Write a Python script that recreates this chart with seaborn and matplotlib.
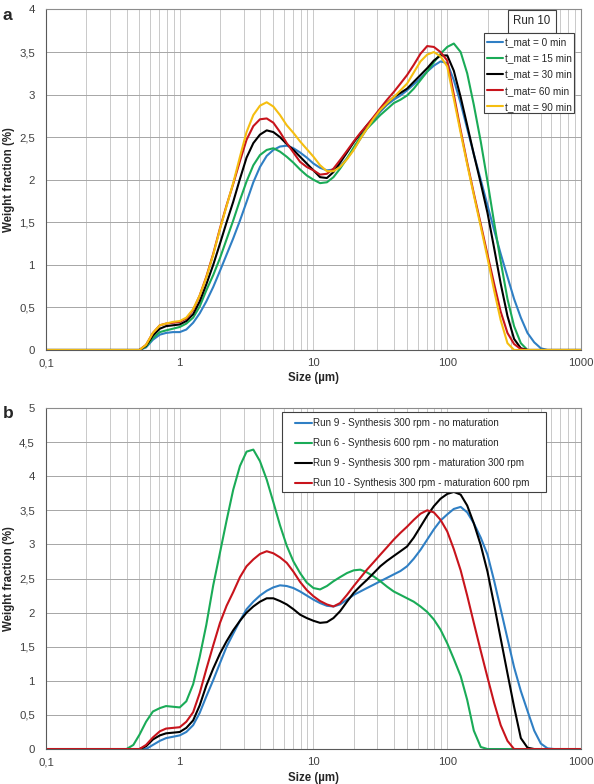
import pandas as pd
import matplotlib
matplotlib.use("Agg")
import matplotlib.pyplot as plt
import seaborn as sns
from matplotlib.patches import Rectangle
from matplotlib.ticker import FixedLocator, FuncFormatter, LogLocator, NullFormatter

# particle size grid (µm)
size_um = [0.1,
           0.4, 0.45, 0.5, 0.56, 0.63, 0.71, 0.79, 0.89,
           1.0, 1.12, 1.26, 1.41, 1.58, 1.78, 2.0, 2.24, 2.51, 2.82,
           3.16, 3.55, 3.98, 4.47, 5.01, 5.62, 6.31, 7.08, 7.94, 8.91,
           10, 11.2, 12.6, 14.1, 15.8, 17.8, 20, 22.4, 25.1, 28.2,
           31.6, 35.5, 39.8, 44.7, 50.1, 56.2, 63.1, 70.8, 79.4, 89.1,
           100, 112, 126, 141, 158, 178, 200, 224, 251, 282,
           316, 355, 398, 447, 501, 562, 631,
           1000]

# panel a - Run 10, maturation time
a_labels = ["t_mat = 0 min", "t_mat = 15 min", "t_mat = 30 min", "t_mat= 60 min", "t_mat = 90 min"]
a_colors = ["#2f7fc4", "#1aab57", "#000000", "#c8141c", "#f5be10"]
a_0min = [0,
          0, 0, 0, 0.03, 0.12, 0.18, 0.20, 0.21,
          0.21, 0.24, 0.32, 0.43, 0.57, 0.74, 0.93, 1.12, 1.31, 1.52,
          1.74, 1.97, 2.15, 2.28, 2.35, 2.39, 2.40, 2.37, 2.32, 2.26,
          2.19, 2.14, 2.11, 2.12, 2.16, 2.25, 2.36, 2.48, 2.60, 2.70,
          2.80, 2.88, 2.94, 2.99, 3.05, 3.12, 3.19, 3.27, 3.34, 3.39,
          3.37, 3.17, 2.90, 2.60, 2.30, 2.00, 1.70, 1.41, 1.13, 0.86,
          0.60, 0.38, 0.20, 0.09, 0.02, 0, 0,
          0]
a_15min = [0,
           0, 0, 0, 0.04, 0.14, 0.21, 0.23, 0.25,
           0.27, 0.31, 0.38, 0.51, 0.70, 0.88, 1.08, 1.30, 1.52, 1.76,
           1.98, 2.17, 2.29, 2.35, 2.37, 2.33, 2.27, 2.20, 2.12, 2.05,
           2.00, 1.96, 1.97, 2.03, 2.13, 2.25, 2.38, 2.50, 2.60, 2.68,
           2.76, 2.83, 2.90, 2.94, 2.99, 3.07, 3.17, 3.27, 3.38, 3.48,
           3.56, 3.60, 3.50, 3.25, 2.88, 2.45, 1.98, 1.50, 1.04, 0.60,
           0.28, 0.08, 0, 0, 0, 0, 0,
           0]
a_30min = [0,
           0, 0, 0, 0.05, 0.17, 0.25, 0.28, 0.29,
           0.30, 0.34, 0.42, 0.57, 0.77, 1.00, 1.25, 1.50, 1.74, 2.01,
           2.26, 2.43, 2.53, 2.58, 2.56, 2.50, 2.42, 2.35, 2.27, 2.19,
           2.11, 2.03, 2.02, 2.09, 2.20, 2.32, 2.44, 2.54, 2.64, 2.73,
           2.82, 2.90, 2.97, 3.02, 3.07, 3.15, 3.23, 3.31, 3.40, 3.46,
           3.46, 3.28, 2.97, 2.64, 2.30, 1.96, 1.61, 1.20, 0.78, 0.40,
           0.13, 0.02, 0, 0, 0, 0, 0,
           0]
a_60min = [0,
           0, 0, 0, 0.06, 0.20, 0.29, 0.31, 0.32,
           0.33, 0.37, 0.47, 0.64, 0.86, 1.13, 1.43, 1.70, 1.95, 2.22,
           2.47, 2.63, 2.71, 2.72, 2.67, 2.56, 2.43, 2.32, 2.21, 2.15,
           2.11, 2.06, 2.07, 2.13, 2.23, 2.34, 2.45, 2.55, 2.64, 2.74,
           2.84, 2.94, 3.03, 3.13, 3.23, 3.35, 3.48, 3.57, 3.56, 3.50,
           3.40, 3.00, 2.58, 2.20, 1.84, 1.48, 1.12, 0.78, 0.45, 0.20,
           0.07, 0.01, 0, 0, 0, 0, 0,
           0]
a_90min = [0,
           0, 0, 0, 0.06, 0.20, 0.29, 0.31, 0.33,
           0.34, 0.38, 0.48, 0.64, 0.85, 1.12, 1.42, 1.69, 1.96, 2.27,
           2.56, 2.76, 2.87, 2.91, 2.86, 2.76, 2.64, 2.55, 2.45, 2.36,
           2.27, 2.17, 2.10, 2.10, 2.15, 2.24, 2.35, 2.48, 2.60, 2.72,
           2.82, 2.90, 2.97, 3.05, 3.13, 3.26, 3.39, 3.47, 3.50, 3.45,
           3.33, 2.95, 2.55, 2.18, 1.82, 1.45, 1.08, 0.70, 0.35, 0.08,
           0, 0, 0, 0, 0, 0, 0,
           0]

# panel b - synthesis / maturation stirring rates
b_labels = ["Run 9 - Synthesis 300 rpm - no maturation",
            "Run 6 - Synthesis 600 rpm - no maturation",
            "Run 9 - Synthesis 300 rpm - maturation 300 rpm",
            "Run 10 - Synthesis 300 rpm - maturation 600 rpm"]
b_colors = ["#2f7fc4", "#1aab57", "#000000", "#c8141c"]
b_run9 = [0,
          0, 0, 0, 0, 0.06, 0.12, 0.16, 0.18,
          0.20, 0.25, 0.35, 0.53, 0.77, 1.01, 1.26, 1.50, 1.69, 1.88,
          2.05, 2.16, 2.25, 2.32, 2.37, 2.40, 2.39, 2.36, 2.31, 2.25,
          2.19, 2.14, 2.10, 2.09, 2.12, 2.19, 2.26, 2.31, 2.36, 2.41,
          2.46, 2.51, 2.56, 2.61, 2.68, 2.79, 2.92, 3.07, 3.22, 3.35,
          3.44, 3.52, 3.55, 3.47, 3.31, 3.10, 2.85, 2.47, 2.05, 1.62,
          1.20, 0.85, 0.56, 0.27, 0.08, 0.01, 0,
          0]
b_run6 = [0,
          0, 0.06, 0.21, 0.40, 0.55, 0.60, 0.63, 0.62,
          0.61, 0.70, 0.95, 1.35, 1.82, 2.40, 2.88, 3.35, 3.80, 4.15,
          4.36, 4.39, 4.22, 3.95, 3.62, 3.28, 2.98, 2.75, 2.58, 2.44,
          2.36, 2.34, 2.39, 2.46, 2.52, 2.58, 2.62, 2.63, 2.59, 2.53,
          2.46, 2.38, 2.31, 2.26, 2.21, 2.16, 2.09, 2.01, 1.90, 1.75,
          1.55, 1.32, 1.07, 0.72, 0.27, 0.03, 0, 0, 0, 0,
          0, 0, 0, 0, 0, 0, 0,
          0]
b_run9_mat = [0,
              0, 0, 0, 0.04, 0.14, 0.20, 0.23, 0.24,
              0.25, 0.31, 0.42, 0.64, 0.93, 1.18, 1.40, 1.58, 1.74, 1.88,
              2.00, 2.09, 2.16, 2.21, 2.21, 2.17, 2.12, 2.05, 1.97, 1.92,
              1.88, 1.85, 1.86, 1.92, 2.02, 2.16, 2.29, 2.39, 2.48, 2.58,
              2.68, 2.76, 2.83, 2.90, 2.97, 3.10, 3.26, 3.42, 3.56, 3.67,
              3.74, 3.77, 3.73, 3.57, 3.31, 2.99, 2.60, 2.12, 1.62, 1.11,
              0.62, 0.16, 0.02, 0, 0, 0, 0,
              0]
b_run10_mat = [0,
               0, 0, 0, 0.06, 0.17, 0.26, 0.30, 0.31,
               0.32, 0.40, 0.54, 0.82, 1.17, 1.52, 1.85, 2.10, 2.30, 2.52,
               2.68, 2.78, 2.86, 2.90, 2.87, 2.81, 2.73, 2.60, 2.45, 2.33,
               2.24, 2.17, 2.12, 2.09, 2.14, 2.26, 2.39, 2.51, 2.63, 2.74,
               2.85, 2.96, 3.07, 3.17, 3.26, 3.36, 3.45, 3.50, 3.47, 3.36,
               3.19, 2.93, 2.62, 2.25, 1.85, 1.44, 1.05, 0.68, 0.35, 0.12,
               0, 0, 0, 0, 0, 0, 0,
               0]

sns.set_style("white")
plt.rcParams["font.family"] = ["Liberation Sans", "DejaVu Sans"]


def comma(v, pos):
    return f"{v:g}".replace(".", ",")


def draw_panel(ax, series, labels, colors, ymax):
    df = pd.DataFrame({
        "size": size_um * len(series),
        "wf": [v for s in series for v in s],
        "run": [lab for lab, s in zip(labels, series) for _ in s],
    })
    sns.lineplot(data=df, x="size", y="wf", hue="run", hue_order=labels,
                 palette=dict(zip(labels, colors)), estimator=None, sort=False,
                 linewidth=1.5, legend=False, ax=ax)
    ax.set_xscale("log")
    ax.set_xlim(0.1, 1000)
    ax.set_ylim(0, ymax)
    ax.xaxis.set_major_locator(FixedLocator([0.1, 1, 10, 100, 1000]))
    ax.xaxis.set_minor_locator(LogLocator(base=10, subs=range(2, 10)))
    ax.xaxis.set_minor_formatter(NullFormatter())
    ax.set_xticklabels(["0,1", "1", "10", "100", "1000"])
    ax.yaxis.set_major_locator(FixedLocator([i * 0.5 for i in range(int(ymax * 2) + 1)]))
    ax.yaxis.set_major_formatter(FuncFormatter(comma))
    ax.grid(which="both", axis="x", color="#c9c9c9", linewidth=0.7)
    ax.grid(which="major", axis="y", color="#a6a6a6", linewidth=0.7)
    ax.set_axisbelow(True)
    ax.tick_params(axis="both", which="major", labelsize=8.2, colors="#404040",
                   length=3, width=0.7)
    ax.tick_params(axis="y", pad=5)
    ax.tick_params(axis="x", pad=3)
    ax.tick_params(axis="x", which="minor", length=0)
    for side in ["left", "bottom"]:
        ax.spines[side].set_color("#595959")
    for side in ["top", "right"]:
        ax.spines[side].set_color("#8c8c8c")
    for sp in ax.spines.values():
        sp.set_linewidth(0.8)
    ax.set_xlabel("Size (µm)", fontsize=8.3, fontweight="bold", labelpad=3)
    ax.set_ylabel("Weight fraction (%)", fontsize=8.3, fontweight="bold")
    ax.yaxis.set_label_coords(-0.058, 0.5)
    return ax.get_lines()[:len(series)]


def boxed_legend(ax, handles, labels, box, anchor, spacing, fsize):
    x0, y0, x1, y1 = box
    ax.add_patch(Rectangle((x0, y0), x1 - x0, y1 - y0, transform=ax.transAxes,
                           facecolor="white", edgecolor="#404040", linewidth=0.8,
                           zorder=4, clip_on=False))
    leg = ax.legend(handles, labels, loc="upper left", bbox_to_anchor=anchor,
                    fontsize=fsize, frameon=False, handlelength=1.68, handletextpad=0.15,
                    labelspacing=spacing, borderpad=0, borderaxespad=0)
    leg.set_zorder(5)


fig = plt.figure(figsize=(5.94, 7.84), dpi=100)
ax_a = fig.add_axes([0.0774, 0.5536, 0.9007, 0.4343])
ax_b = fig.add_axes([0.0774, 0.0446, 0.9007, 0.4350])

lines_a = draw_panel(ax_a, [a_0min, a_15min, a_30min, a_60min, a_90min], a_labels, a_colors, 4)
boxed_legend(ax_a, lines_a, a_labels, (0.8193, 0.696, 0.9869, 0.931), (0.8234, 0.919), 0.62, 7.2)
ax_a.text(0.908, 0.965, "Run 10", transform=ax_a.transAxes, ha="center", va="center",
          fontsize=8.3, bbox=dict(boxstyle="square,pad=0.45", fc="white", ec="#404040", lw=0.8))

lines_b = draw_panel(ax_b, [b_run9, b_run6, b_run9_mat, b_run10_mat], b_labels, b_colors, 5)
boxed_legend(ax_b, lines_b, b_labels, (0.441, 0.7537, 0.9346, 0.988), (0.4654, 0.970), 1.02, 7.1)

fig.text(0.004, 0.98, "a", fontsize=12.5, fontweight="bold", va="center")
fig.text(0.004, 0.472, "b", fontsize=12.5, fontweight="bold", va="center")

fig.savefig("out.png", dpi=100)
